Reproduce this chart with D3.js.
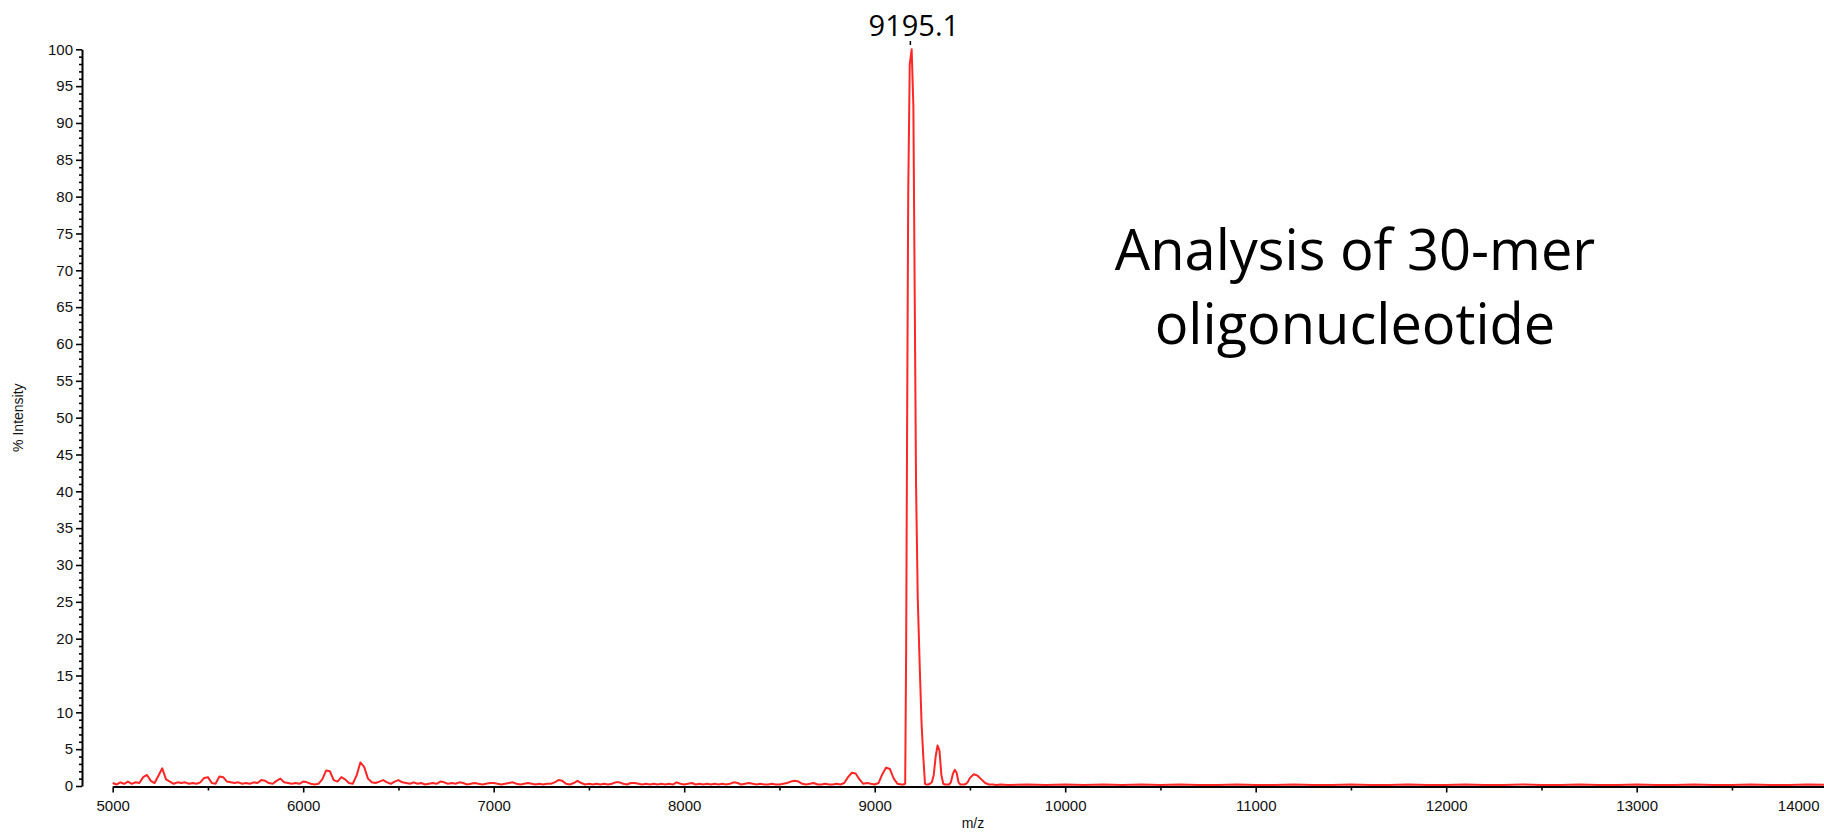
<!DOCTYPE html>
<html>
<head>
<meta charset="utf-8">
<script src="https://cdn.jsdelivr.net/npm/d3@7/dist/d3.min.js"></script>
<style>
  html, body { margin: 0; padding: 0; background: #ffffff; }
  svg { display: block; }
</style>
</head>
<body>
<svg id="chart" width="1824" height="832"></svg>
<script>
// ---------------- DATA ----------------
const mz = [
  5000,5020,5040,5060,5080,5100,5120,5140,5160,5180,
  5200,5220,5240,5260,5280,5300,5320,5340,5360,5380,
  5400,5420,5440,5460,5480,5500,5520,5540,5560,5580,
  5600,5620,5640,5660,5680,5700,5720,5740,5760,5780,
  5800,5820,5840,5860,5880,5900,5920,5940,5960,5980,
  6000,6020,6040,6060,6080,6100,6120,6140,6160,6180,
  6200,6220,6240,6260,6280,6300,6320,6340,6360,6380,
  6400,6420,6440,6460,6480,6500,6520,6540,6560,6580,
  6600,6620,6640,6660,6680,6700,6720,6740,6760,6780,
  6800,6820,6840,6860,6880,6900,6920,6940,6960,6980,
  7000,7020,7040,7060,7080,7100,7120,7140,7160,7180,
  7200,7220,7240,7260,7280,7300,7320,7340,7360,7380,
  7400,7420,7440,7460,7480,7500,7520,7540,7560,7580,
  7600,7620,7640,7660,7680,7700,7720,7740,7760,7780,
  7800,7820,7840,7860,7880,7900,7920,7940,7960,7980,
  8000,8020,8040,8060,8080,8100,8120,8140,8160,8180,
  8200,8220,8240,8260,8280,8300,8320,8340,8360,8380,
  8400,8420,8440,8460,8480,8500,8520,8540,8560,8580,
  8600,8620,8640,8660,8680,8700,8720,8740,8760,8780,
  8800,8820,8840,8860,8880,8900,8920,8940,8960,8980,
  9000,9020,9040,9060,9080,9100,9120,9140,9150,9160,
  9165,9170,9176,9184,9194,9203,9211,9217,9226,9237,
  9246,9255,9264,9270,9280,9290,9300,9310,9320,9330,
  9340,9350,9360,9370,9380,9390,9400,9410,9420,9430,
  9440,9450,9460,9470,9480,9490,9500,9520,9540,9560,
  9580,9600,9620,9640,9660,9700,9800,9900,10000,10100,
  10200,10300,10400,10500,10600,10700,10800,10900,11000,11100,
  11200,11300,11400,11500,11600,11700,11800,11900,12000,12100,
  12200,12300,12400,12500,12600,12700,12800,12900,13000,13100,
  13200,13300,13400,13500,13600,13700,13800,13900,14000
];
const intensity = [
  0.4,0.2,0.5,0.3,0.6,0.3,0.5,0.4,1.2,1.5,
  0.7,0.4,1.4,2.4,0.9,0.6,0.3,0.5,0.4,0.5,
  0.3,0.4,0.3,0.5,1.1,1.2,0.4,0.3,1.3,1.2,
  0.6,0.5,0.4,0.5,0.3,0.4,0.3,0.5,0.4,0.8,
  0.7,0.4,0.3,0.7,1.0,0.5,0.4,0.3,0.4,0.3,
  0.6,0.5,0.3,0.2,0.3,0.9,2.1,2.0,0.8,0.6,
  1.2,0.9,0.4,0.3,1.4,3.2,2.6,1.0,0.5,0.4,
  0.6,0.8,0.5,0.3,0.6,0.8,0.5,0.4,0.3,0.5,
  0.3,0.4,0.2,0.3,0.4,0.3,0.6,0.5,0.3,0.4,
  0.3,0.5,0.4,0.2,0.3,0.4,0.3,0.2,0.3,0.4,
  0.4,0.3,0.2,0.3,0.4,0.5,0.3,0.2,0.3,0.4,
  0.3,0.2,0.3,0.2,0.3,0.3,0.5,0.8,0.7,0.3,
  0.2,0.4,0.7,0.4,0.2,0.3,0.2,0.3,0.2,0.3,
  0.2,0.3,0.5,0.5,0.3,0.2,0.4,0.4,0.3,0.2,
  0.3,0.2,0.3,0.2,0.3,0.2,0.3,0.2,0.5,0.3,
  0.2,0.3,0.4,0.2,0.3,0.2,0.3,0.2,0.3,0.2,
  0.3,0.2,0.3,0.5,0.4,0.2,0.3,0.4,0.3,0.2,
  0.3,0.2,0.2,0.3,0.2,0.2,0.3,0.4,0.6,0.7,
  0.6,0.3,0.2,0.3,0.4,0.2,0.2,0.3,0.2,0.2,
  0.3,0.2,0.4,1.2,1.8,1.7,0.9,0.3,0.4,0.3,
  0.2,0.4,1.6,2.5,2.3,1.0,0.3,0.2,0.2,0.3,
  18.2,47.9,80.5,98.0,100,92.3,63.2,41.0,25.5,15.7,
  8.5,4.0,0.3,0.2,0.2,0.3,0.5,1.5,4.0,5.5,
  4.8,1.5,0.3,0.2,0.2,0.2,0.5,1.6,2.2,1.8,
  0.5,0.2,0.2,0.2,0.3,0.6,1.1,1.6,1.4,0.9,
  0.4,0.2,0.2,0.15,0.2,0.15,0.2,0.15,0.2,0.15,
  0.2,0.15,0.2,0.15,0.2,0.15,0.15,0.2,0.15,0.15,
  0.2,0.15,0.15,0.2,0.15,0.15,0.2,0.15,0.15,0.2,
  0.15,0.15,0.2,0.15,0.15,0.2,0.15,0.15,0.2,0.15,
  0.15,0.2,0.15,0.15,0.2,0.15,0.15,0.2,0.15
];
const xMajorTicks = [5000,6000,7000,8000,9000,10000,11000,12000,13000,14000];
const xMinorTicks = [5500,6500,7500,8500,9500,10500,11500,12500,13500];
const yMajorTicks = [0,5,10,15,20,25,30,35,40,45,50,55,60,65,70,75,80,85,90,95,100];
const peakLabel = "9195.1";
const peakMz = 9195.1;
const titleLines = ["Analysis of 30-mer", "oligonucleotide"];
const xTitle = "m/z";
const yTitle = "% Intensity";

// ---------------- CHART ----------------
const svg = d3.select("#chart");
const axisFont = "'Liberation Sans', Arial, sans-serif";
const x = d3.scaleLinear().domain([5000, 14000]).range([112.7, 1827.2]);
const y = d3.scaleLinear().domain([0, 100]).range([786, 49.3]);

const yMinorTicks = d3.range(0, 101, 1).filter(v => v % 5 !== 0);

// Y axis
const yAxisG = svg.append("g").attr("transform", "translate(82,0)");
yAxisG.call(d3.axisLeft(y).tickValues(yMajorTicks).tickSize(6).tickPadding(3).tickSizeOuter(0));
yAxisG.append("g").call(d3.axisLeft(y).tickValues(yMinorTicks).tickSize(3).tickFormat("").tickSizeOuter(0))
  .select(".domain").remove();
yAxisG.selectAll("path.domain").attr("stroke", "#000").attr("stroke-width", 2);
yAxisG.selectAll(".tick line").attr("stroke", "#000").attr("stroke-width", 1.6);
yAxisG.selectAll(".tick text").attr("font-family", axisFont).attr("font-size", 15).attr("fill", "#111");

// X axis
const xAxisG = svg.append("g").attr("transform", "translate(0,786.5)");
xAxisG.call(d3.axisBottom(x).tickValues(xMajorTicks).tickSize(6).tickPadding(8).tickFormat(d3.format("d")).tickSizeOuter(0));
xAxisG.append("g").call(d3.axisBottom(x).tickValues(xMinorTicks).tickSize(4).tickFormat("").tickSizeOuter(0))
  .select(".domain").remove();
xAxisG.selectAll("path.domain").attr("stroke", "#000").attr("stroke-width", 2);
xAxisG.selectAll(".tick line").attr("stroke", "#000").attr("stroke-width", 1.6);
xAxisG.selectAll(".tick text").attr("font-family", axisFont).attr("font-size", 15).attr("fill", "#111");
// keep the last label inside the page
xAxisG.selectAll(".tick").filter(d => d === 14000).select("text")
  .attr("text-anchor", "end").attr("x", 1819 - x(14000));

// Axis titles
svg.append("text").attr("x", x(9500) + 3).attr("y", 828)
  .attr("text-anchor", "middle").attr("font-family", axisFont).attr("font-size", 14).attr("fill", "#111")
  .text(xTitle);
svg.append("text").attr("transform", "translate(23," + y(50) + ") rotate(-90)")
  .attr("text-anchor", "middle").attr("font-family", axisFont).attr("font-size", 14).attr("fill", "#111")
  .text(yTitle);

// Spectrum line
const pts = mz.map((m, i) => [m, intensity[i]]);
svg.append("path")
  .datum(pts)
  .attr("fill", "none")
  .attr("stroke", "#ff2626")
  .attr("stroke-width", 2)
  .attr("stroke-linejoin", "round")
  .attr("d", d3.line().x(d => x(d[0])).y(d => y(d[1])));

// Peak annotation
svg.append("line")
  .attr("x1", x(peakMz) - 1.5).attr("x2", x(peakMz) - 1.5)
  .attr("y1", 41).attr("y2", 45)
  .attr("stroke", "#000").attr("stroke-width", 1.5);
svg.append("text").attr("x", x(peakMz) + 2).attr("y", 36)
  .attr("text-anchor", "middle").attr("font-family", "'Open Sans', 'Noto Sans', sans-serif")
  .attr("font-size", 29).attr("fill", "#000")
  .text(peakLabel);

// Title
const title = svg.append("text").attr("text-anchor", "middle")
  .attr("font-family", "'Open Sans', 'Noto Sans', sans-serif").attr("font-size", 56).attr("fill", "#000");
title.selectAll("tspan").data(titleLines).join("tspan")
  .attr("x", 1355).attr("y", (d, i) => 270 + i * 74)
  .text(d => d);
</script>
</body>
</html>
